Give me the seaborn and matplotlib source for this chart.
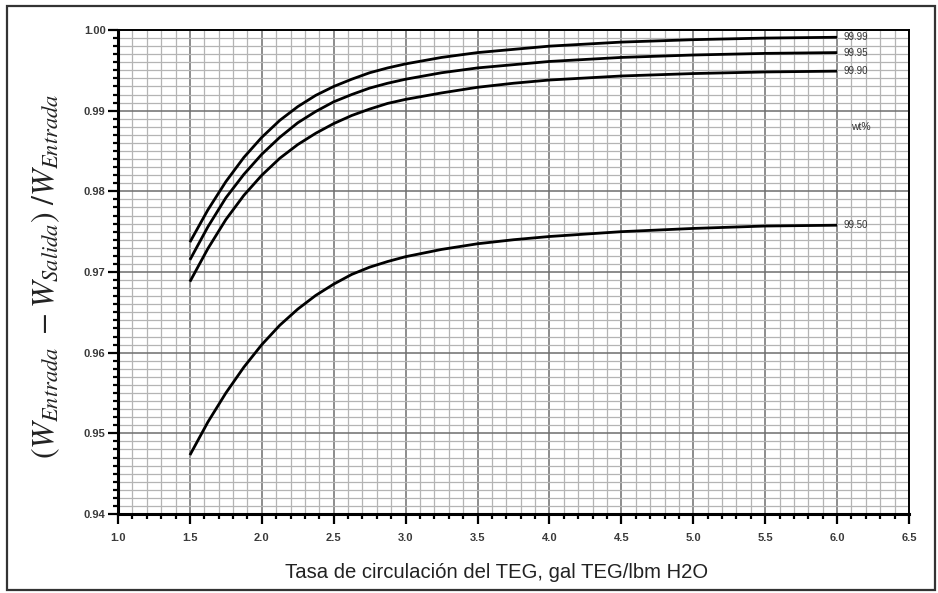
import numpy as np
import pandas as pd
import seaborn as sns
import matplotlib
matplotlib.use("Agg")
import matplotlib.pyplot as plt
from matplotlib.ticker import MultipleLocator, FormatStrFormatter
from matplotlib.patches import Rectangle

# ---- data ----
x_rate = [1.5, 1.625, 1.75, 1.875, 2.0, 2.125, 2.25, 2.375, 2.5, 2.625, 2.75, 2.875,
          3.0, 3.25, 3.5, 3.75, 4.0, 4.5, 5.0, 5.5, 6.0]
y_9999 = [0.9737, 0.9777, 0.9812, 0.9842, 0.9867, 0.9888, 0.9905, 0.9919, 0.9930, 0.9939,
          0.9947, 0.9953, 0.9958, 0.9966, 0.9972, 0.9976, 0.9980, 0.9985, 0.9988, 0.9990, 0.9991]
y_9995 = [0.9715, 0.9756, 0.9792, 0.9821, 0.9846, 0.9867, 0.9885, 0.9899, 0.9911, 0.9920,
          0.9928, 0.9934, 0.9939, 0.9947, 0.9953, 0.9957, 0.9961, 0.9966, 0.9969, 0.9971, 0.9972]
y_9990 = [0.9688, 0.9729, 0.9765, 0.9795, 0.9820, 0.9841, 0.9858, 0.9872, 0.9884, 0.9894,
          0.9902, 0.9909, 0.9914, 0.9922, 0.9929, 0.9934, 0.9938, 0.9943, 0.9946, 0.9948, 0.9949]
y_9950 = [0.9473, 0.9514, 0.9550, 0.9582, 0.9610, 0.9634, 0.9654, 0.9671, 0.9685, 0.9697,
          0.9706, 0.9713, 0.9719, 0.9728, 0.9735, 0.9740, 0.9744, 0.9750, 0.9754, 0.9757, 0.9758]
series_labels = ["99.99", "99.95", "99.90", "99.50"]
x_ticks = [1.0, 1.5, 2.0, 2.5, 3.0, 3.5, 4.0, 4.5, 5.0, 5.5, 6.0, 6.5]
y_ticks = [0.94, 0.95, 0.96, 0.97, 0.98, 0.99, 1.00]

rows = []
for lab, ys in zip(series_labels, [y_9999, y_9995, y_9990, y_9950]):
    for xv, yv in zip(x_rate, ys):
        rows.append({"x": xv, "y": yv, "wt": lab})
df = pd.DataFrame(rows)

sns.set_theme(style="white")
plt.rcParams["font.family"] = ["Liberation Sans", "DejaVu Sans"]
plt.rcParams["mathtext.fontset"] = "stix"

fig = plt.figure(figsize=(9.38, 5.93), dpi=100)
ax = fig.add_axes([118/938, 1-514/593, (909-118)/938, (514-30)/593])

# grid
ax.set_xlim(1.0, 6.5)
ax.set_ylim(0.94, 1.00)
ax.xaxis.set_major_locator(MultipleLocator(0.5))
ax.xaxis.set_minor_locator(MultipleLocator(0.1))
ax.yaxis.set_major_locator(MultipleLocator(0.01))
ax.yaxis.set_minor_locator(MultipleLocator(0.001))
ax.grid(which="minor", color="#b4b4b4", linewidth=0.9, zorder=0)
ax.grid(which="major", color="#6e6e6e", linewidth=1.1, zorder=0)
ax.set_axisbelow(True)

sns.lineplot(data=df, x="x", y="y", hue="wt", hue_order=series_labels,
             palette=["black"]*4, linewidth=2.0, legend=False, ax=ax,
             estimator=None, sort=True)
for ln in ax.lines:
    ln.set_solid_joinstyle("round")
    ln.set_solid_capstyle("butt")

# curve labels
for lab, ys in zip(series_labels, [y_9999, y_9995, y_9990, y_9950]):
    ax.text(x_rate[-1] + 0.045, ys[-1], lab, fontsize=7, color="#333333",
            ha="left", va="center")
ax.text(6.1, 0.988, "wt%", fontsize=7.5, color="#333333", ha="left", va="center")

ax.set_xticks(x_ticks)
ax.set_yticks(y_ticks)
ax.xaxis.set_major_formatter(FormatStrFormatter("%.1f"))
ax.yaxis.set_major_formatter(FormatStrFormatter("%.2f"))
ax.tick_params(axis="both", which="major", direction="out", length=7, width=1.6,
               color="black", labelsize=8, labelcolor="#3a3a3a", bottom=True, left=True)
ax.tick_params(axis="both", which="minor", direction="out", length=3.5, width=1.6,
               color="black", bottom=True, left=True)
ax.tick_params(axis="x", which="major", pad=7)
ax.tick_params(axis="y", which="major", pad=2)
for t in ax.get_xticklabels() + ax.get_yticklabels():
    t.set_fontweight("bold")

for s in ax.spines.values():
    s.set_visible(True)
    s.set_color("black")
    s.set_linewidth(1.4)
ax.spines["left"].set_linewidth(2.2)
ax.spines["bottom"].set_linewidth(2.2)

ax.set_xlabel("")
ax.set_ylabel("")
fig.text(497/938, 1-572/593, "Tasa de circulación del TEG, gal TEG/lbm H2O",
         fontsize=14.6, color="#222222", ha="center", va="center")
fig.text(46/938, 1-276/593, r"$(W_{Entrada}\ -W_{Salida})\ /W_{Entrada}$",
         fontsize=23, rotation=90, ha="center", va="center", color="#222222")

fig.patches.append(Rectangle((7/938, 3/593), (935-7)/938, (587-3)/593,
                             transform=fig.transFigure, fill=False,
                             edgecolor="#333333", linewidth=1.6))

fig.savefig("out.png", dpi=100)
